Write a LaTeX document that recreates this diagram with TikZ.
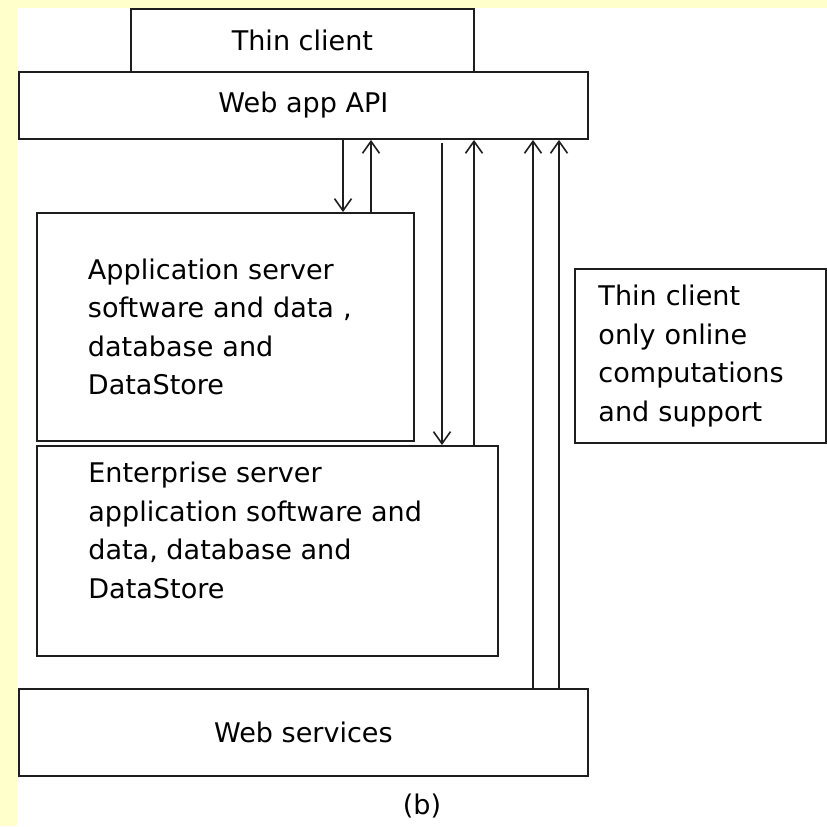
\documentclass[tikz,border=0pt]{standalone}
\usepackage{fontspec}
\setmainfont{DejaVu Sans}
\definecolor{fondoAmarillo}{HTML}{FFFFCC}
\definecolor{trazoOscuro}{HTML}{1E1E1E}
\usetikzlibrary{
	arrows.meta,
	positioning
}
\tikzset{
	caja/.style={
		draw=trazoOscuro,
		line width=1.1pt,
		fill=white,
		anchor=north west,
		inner sep=0pt,
		font=\fontsize{15.4}{21.9}\selectfont
	},
	texto/.style={
		align=left,
		inner sep=0pt,
		font=\fontsize{15.4}{21.9}\selectfont
	},
	flecha/.style={
		-{Straight Barb[length=2.4mm,width=3.4mm]},
		line width=0.9pt,
		trazoOscuro
	}
}

\begin{document}
\begin{tikzpicture}[x=0.02cm, y=-0.02cm]
		\useasboundingbox (0,0) rectangle (827,826);
		\fill[fondoAmarillo] (0,0) rectangle (827,826);
		\fill[white] (17,8) rectangle (827,826);
		% cajas
		\node[caja, minimum width=6.86cm, minimum height=1.26cm] (cliente) at (130,8) {Thin client};
		\node[caja, minimum width=11.38cm, minimum height=1.34cm] (api) at (18,71) {Web app API};
		\node[caja, minimum width=7.54cm, minimum height=4.56cm, text width=5.5cm, align=left] (servidorApp) at (36,212) {Application server\\software and data ,\\database and\\DataStore};
		\node[caja, minimum width=9.22cm, minimum height=4.2cm] (servidorEmp) at (36,445) {};
		\node[texto, anchor=north west] (textoEmp) at (88,462) {Enterprise server\\application software and\\data, database and\\DataStore};
		\node[caja, minimum width=5.02cm, minimum height=3.48cm, text width=4.08cm, align=left] (soloCliente) at (574,268) {Thin client\\only online\\computations\\and support};
		\node[caja, minimum width=11.38cm, minimum height=1.74cm] (servicios) at (18,688) {Web services};
		\node[texto] (etiqueta) at (422,806) {(b)};
		% flechas
		\draw[flecha] (api.south -| 343,0) -- (servidorApp.north -| 343,0);
		\draw[flecha] (servidorApp.north -| 371,0) -- (api.south -| 371,0);
		\draw[flecha, shorten <=2pt] (api.south -| 442,0) -- (servidorEmp.north -| 442,0);
		\draw[flecha] (servidorEmp.north -| 474,0) -- (api.south -| 474,0);
		\draw[flecha] (servicios.north -| 533,0) -- (api.south -| 533,0);
		\draw[flecha] (servicios.north -| 559,0) -- (api.south -| 559,0);
	\end{tikzpicture}
\end{document}
